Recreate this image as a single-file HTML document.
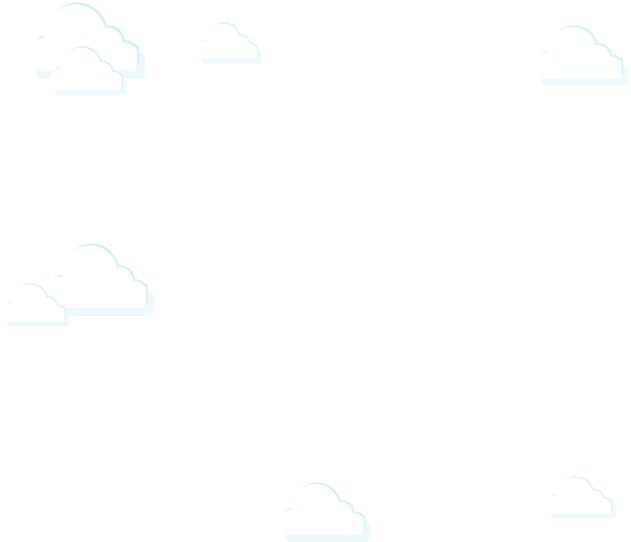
<!DOCTYPE html>
<html><head><meta charset="utf-8"><style>
html,body{margin:0;padding:0;background:#fff;width:631px;height:542px;overflow:hidden}
svg{position:absolute;left:0;top:0}
</style></head><body>
<svg width="631" height="542" viewBox="0 0 631 542">
<defs>
<g id="shape">
<circle cx="45" cy="28" r="26"/>
<circle cx="72" cy="34" r="13"/>
<circle cx="86" cy="44" r="11"/>
<circle cx="18" cy="42" r="13"/>
<rect x="5" y="36" width="92" height="20" rx="4"/>
</g>
<symbol id="cloud" viewBox="0 0 108 64" preserveAspectRatio="none">
<g transform="translate(7,7)" fill="#eef9fe"><use href="#shape"/></g>
<g transform="translate(1.6,-1.6)" fill="#d3f0fc"><use href="#shape"/></g>
<g fill="#ffffff"><use href="#shape"/></g>
</symbol>
</defs>
<use href="#cloud" x="22" y="2" width="128" height="78"/>
<use href="#cloud" x="46" y="46" width="84" height="50"/>
<use href="#cloud" x="194" y="22" width="70" height="42"/>
<use href="#cloud" x="530" y="25" width="102" height="61"/>
<use href="#cloud" x="42" y="243" width="116" height="74"/>
<use href="#cloud" x="0" y="283" width="72" height="44"/>
<use href="#cloud" x="274" y="482" width="100" height="60"/>
<use href="#cloud" x="543" y="476" width="76" height="43"/>
</svg>
</body></html>
